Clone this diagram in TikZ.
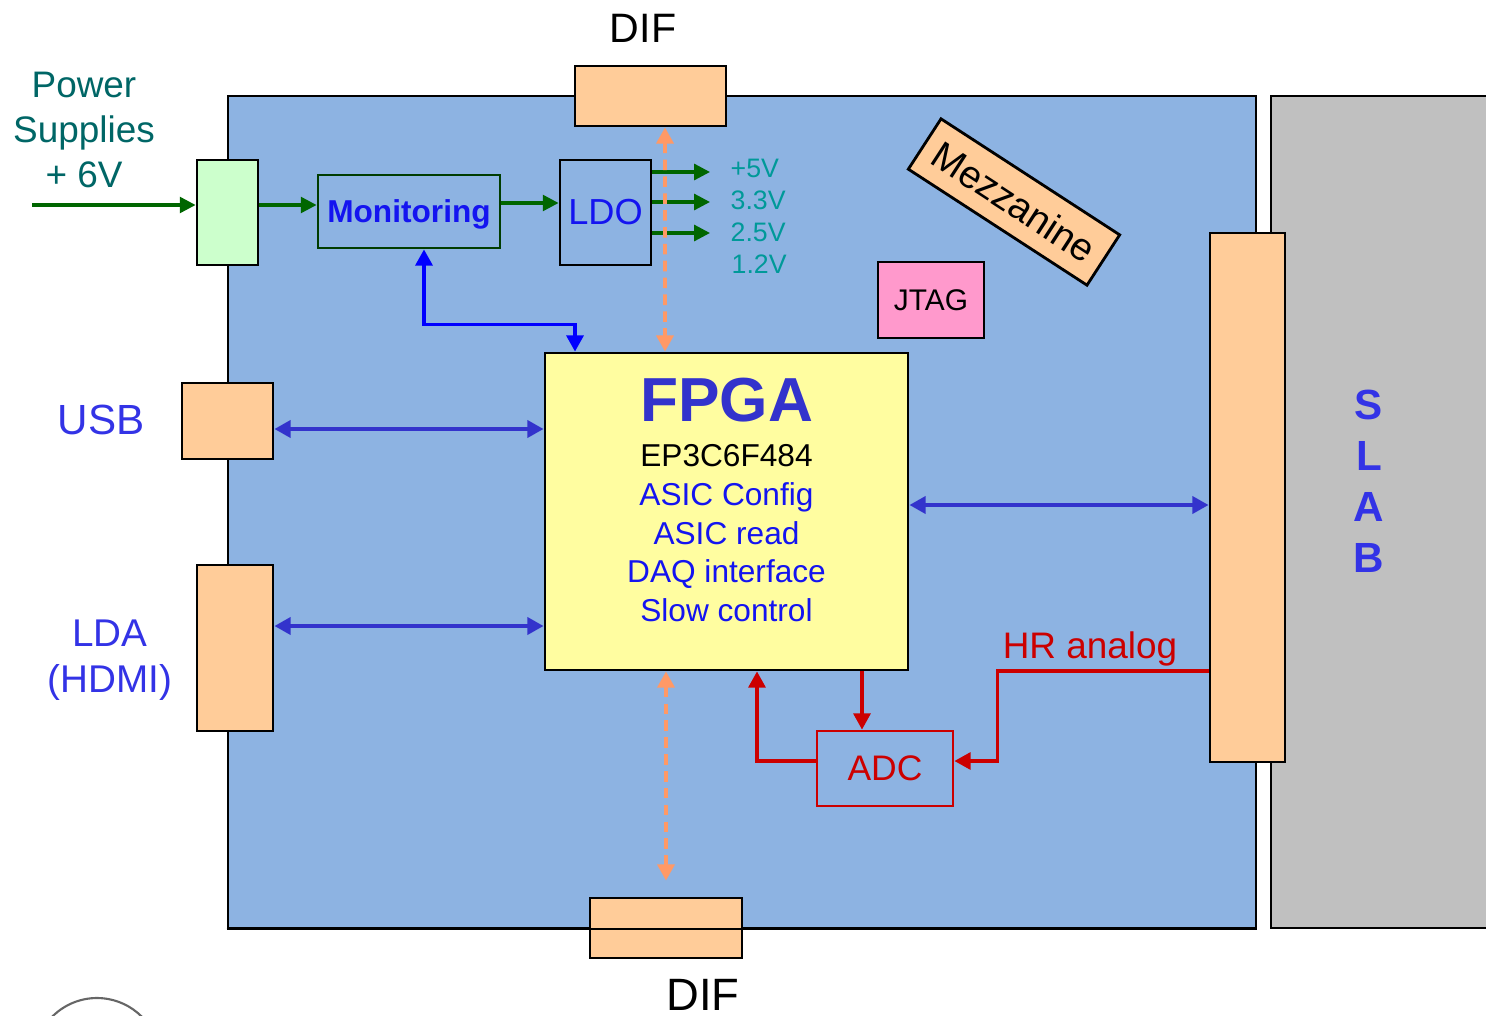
\documentclass[tikz,border=0pt]{standalone}
\usepackage{fontspec}
\setmainfont{Liberation Sans}
\usetikzlibrary{arrows.meta}

\definecolor{boardblue}{RGB}{141,179,226}
\definecolor{plugpeach}{RGB}{255,204,153}
\definecolor{psugreen}{RGB}{204,255,204}
\definecolor{fpgayellow}{RGB}{255,253,160}
\definecolor{jtagpink}{RGB}{255,153,204}
\definecolor{slabgrey}{RGB}{192,192,192}
\definecolor{pwrteal}{RGB}{0,102,102}
\definecolor{volteal}{RGB}{0,153,153}
\definecolor{pwrgreen}{RGB}{0,102,0}
\definecolor{mongreen}{RGB}{0,60,0}
\definecolor{busblue}{RGB}{51,51,204}
\definecolor{txtblue}{RGB}{20,20,240}
\definecolor{lblblue}{RGB}{51,51,230}
\definecolor{adcred}{RGB}{204,0,0}
\definecolor{diforange}{RGB}{255,153,102}

\begin{document}
\begin{tikzpicture}[
  every node/.style = {font=\fontsize{9}{11}\selectfont, inner sep=0pt},
  board/.style  = {rectangle, draw=black, line width=0.8pt, fill=boardblue,
                   minimum width=10.28cm, minimum height=8.32cm},
  slab/.style   = {rectangle, draw=black, line width=0.8pt, fill=slabgrey,
                   minimum width=2.58cm, minimum height=8.32cm},
  plug/.style   = {rectangle, draw=black, line width=0.8pt, fill=#1},
  plug/.default = plugpeach,
  chip/.style   = {rectangle, draw=#1, line width=0.8pt},
  pwrarr/.style = {-{Triangle[length=4.5pt, width=4.5pt]}, line width=0.9pt, pwrgreen},
  busarr/.style = {{Triangle[length=4.6pt, width=4.8pt]}-{Triangle[length=4.6pt, width=4.8pt]},
                   line width=1.1pt, busblue},
  monarr/.style = {{Triangle[length=4.6pt, width=4.8pt]}-{Triangle[length=4.6pt, width=4.8pt]},
                   line width=1pt, blue},
  difarr/.style = {{Triangle[length=4.6pt, width=4.8pt]}-{Triangle[length=4.6pt, width=4.8pt]},
                   line width=1.05pt, diforange, dash pattern=on 3pt off 1.8pt},
  adcarr/.style = {-{Triangle[length=4.6pt, width=4.8pt]}, line width=0.95pt, adcred},
  voltlbl/.style = {anchor=west, text=volteal, font=\fontsize{7.6}{9}\selectfont},
]
\useasboundingbox (0,0) rectangle (14.86,-10.16);

%% ══ BOARD AND SLAB ══════════════════════════════════════════════════════
\node[board] at (7.42,-5.12) (board) {};
\node[slab]  at (14.00,-5.12) (slab) {};

\node[plug, minimum width=1.52cm, minimum height=0.60cm] at (6.66,-9.28) (difBot) {};
\draw[line width=0.6pt] (board.south west) -- (board.south east);
\node[plug, minimum width=1.51cm, minimum height=0.60cm] at (6.505,-0.96) (difTop) {};

\node[plug, minimum width=0.75cm, minimum height=5.29cm] at (12.475,-4.975) (slabconn) {};

\node[text=lblblue, font=\fontsize{12}{14.5}\selectfont\bfseries, align=center]
  at (13.69,-4.81) (slablbl) {S\\L\\A\\B};

%% ══ LEFT SIDE: power, USB, LDA ═════════════════════════════════════════
\node[plug=psugreen, minimum width=0.61cm, minimum height=1.05cm] at (2.275,-2.125) (psu) {};
\node[plug, minimum width=0.91cm, minimum height=0.76cm] at (2.275,-4.21) (usb) {};
\node[plug, minimum width=0.76cm, minimum height=1.66cm] at (2.35,-6.48) (lda) {};

\node[text=pwrteal, align=center, font=\fontsize{10.5}{12.8}\selectfont]
  at (0.84,-1.30) (pwrlbl) {Power\\Supplies\\+ 6V};
\node[text=lblblue, font=\fontsize{12}{14}\selectfont] at (1.01,-4.20) (usblbl) {USB};
\node[text=lblblue, align=center, font=\fontsize{11}{13.2}\selectfont]
  at (1.10,-6.60) (ldalbl) {LDA\\(HDMI)};

%% ══ POWER CHAIN: Monitoring → LDO ══════════════════════════════════════
\node[chip=mongreen, minimum width=1.82cm, minimum height=0.73cm, text depth=0pt,
      text=txtblue, font=\fontsize{9}{11}\selectfont\bfseries] at (4.09,-2.115) (mon) {Monitoring};
\node[chip=black, minimum width=0.91cm, minimum height=1.05cm,
      text=txtblue, font=\fontsize{10.3}{12}\selectfont] at (6.055,-2.125) (ldo) {LDO};

\node[voltlbl] at (7.30,-1.68) (v5)  {+5V};
\node[voltlbl] at (7.30,-2.00) (v33) {3.3V};
\node[voltlbl] at (7.30,-2.32) (v25) {2.5V};
\node[voltlbl] at (7.31,-2.64) (v12) {1.2V};

\coordinate (pin) at (0.32,-2.05);
\coordinate (o5)  at (7.10,-1.72);
\coordinate (o33) at (7.10,-2.02);
\coordinate (o25) at (7.10,-2.33);

\draw[pwrarr] (pin) -- (pin -| psu.west);
\draw[pwrarr] (pin -| psu.east) -- (pin -| mon.west);
\draw[pwrarr] ([yshift=0.085cm]mon.east) -- ([yshift=0.085cm]mon.east -| ldo.west);
\draw[pwrarr] (ldo.east |- o5)  -- (o5);
\draw[pwrarr] (ldo.east |- o33) -- (o33);
\draw[pwrarr] (ldo.east |- o25) -- (o25);

%% ══ FPGA AND FRIENDS ═══════════════════════════════════════════════════
\node[chip=black, fill=fpgayellow, minimum width=3.63cm, minimum height=3.17cm]
  at (7.265,-5.115) (fpga) {};
\node[align=center, text=txtblue] at (7.265,-5.00) (fpgatxt) {
  {\fontsize{17.7}{18}\selectfont\bfseries\color{busblue}FPGA}\\[1.8pt]
  {\color{black}EP3C6F484}\\
  ASIC Config\\
  ASIC read\\
  DAQ interface\\
  Slow control
};

\node[plug=jtagpink, minimum width=1.06cm, minimum height=0.76cm,
      font=\fontsize{8.5}{10}\selectfont] at (9.31,-3.00) (jtag) {JTAG};
\node[plug, rotate=-33, minimum width=2.13cm, minimum height=0.60cm,
      font=\fontsize{11}{13}\selectfont] at (10.14,-2.02) (mezz) {Mezzanine};

\node[chip=adcred, minimum width=1.36cm, minimum height=0.75cm,
      text=adcred, font=\fontsize{10.1}{12}\selectfont] at (8.85,-7.685) (adc) {ADC};

%% ── links to FPGA ─────────────────────────────────────────────────────────
\draw[monarr] ([xshift=0.15cm]mon.south) -- ++(0,-0.75) -| ([xshift=-1.515cm]fpga.north);
\draw[busarr] ([yshift=-0.08cm]usb.east) -- ([yshift=-0.08cm]usb.east -| fpga.west);
\draw[busarr] ([yshift=0.22cm]lda.east) -- ([yshift=0.22cm]lda.east -| fpga.west);
\draw[busarr] ([yshift=0.065cm]fpga.east) -- ([yshift=0.065cm]fpga.east -| slabconn.west);

\draw[difarr] ([xshift=0.145cm]difTop.south) -- ([xshift=-0.615cm]fpga.north);
\draw[difarr, shorten >=0.16cm] (fpga.south -| difBot.north) -- (difBot.north);

%% ── ADC loop ──────────────────────────────────────────────────────────────
\draw[adcarr] ([xshift=-0.23cm]adc.north |- fpga.south) -- ([xshift=-0.23cm]adc.north);
\draw[adcarr] ([yshift=0.075cm]adc.west) -| ([xshift=0.305cm]fpga.south);
\draw[adcarr] ([yshift=-1.735cm]slabconn.west) -- ++(-2.11,0) |- ([yshift=0.075cm]adc.east);
\node[anchor=base, text=adcred, font=\fontsize{10.5}{12}\selectfont] at (10.90,-6.58) (hrlbl) {HR analog};

%% ══ DIF labels ═════════════════════════════════════════════════════════
\node[font=\fontsize{11.7}{14}\selectfont] at (6.43,-0.28) (difTopLbl) {DIF};
\node[anchor=base, font=\fontsize{12.9}{15}\selectfont] at (7.03,-10.10) (difBotLbl) {DIF};

\draw[gray!80!black, line width=0.6pt] (0.97,-10.61) ++(140:0.63) arc[start angle=140, end angle=40, radius=0.63];

\end{tikzpicture}
\end{document}
